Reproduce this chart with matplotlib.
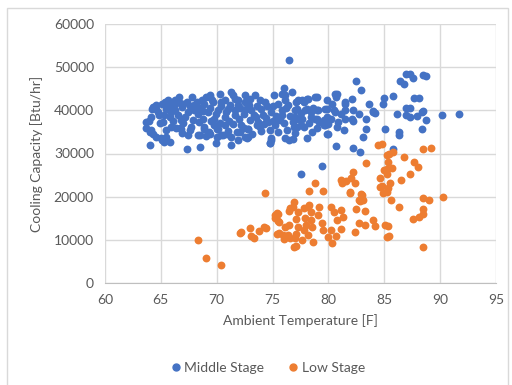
import matplotlib
matplotlib.use("Agg")
import matplotlib.pyplot as plt
from matplotlib.patches import Rectangle
from matplotlib.lines import Line2D

# Middle stage: ambient temperature [F] and cooling capacity [Btu/hr]
mid_temp = [76.5, 64.0, 67.3, 68.5, 69.9, 71.3, 74.8, 74.9, 76.5, 76.8,
            63.7, 63.7, 64.0, 64.3, 64.6, 65.1, 65.5, 65.8,
            66.4, 66.8, 67.6, 67.4, 68.5, 68.9, 69.3,
            70.0, 70.4, 70.9, 71.3, 71.8, 72.4, 72.8, 72.7,
            73.6, 74.2, 74.8, 75.2, 75.7, 76.3, 76.9,
            64.2, 64.6, 65.1, 65.4, 65.8, 66.3, 66.6, 66.7, 67.3, 67.8,
            68.2, 68.7, 69.0, 69.4, 69.6, 70.3, 70.4, 71.3, 71.5, 71.9,
            72.5, 73.0, 73.4, 73.9, 74.3, 75.1, 75.8, 76.0, 76.1, 76.7, 77.1,
            64.3, 64.6, 64.1, 63.9, 64.1, 65.0, 65.3, 72.5, 72.1, 70.1,
            68.9, 67.7, 66.7, 65.9, 65.2, 65.8, 66.5, 67.4, 68.3, 69.2,
            70.1, 71.0, 71.9, 72.5, 69.4, 65.6, 64.7, 65.5, 66.2, 67.0,
            68.0, 68.9, 69.7, 70.7, 71.6, 66.8, 67.9, 68.8, 69.8, 70.7,
            71.6, 72.4, 70.7, 71.5, 72.2, 69.4, 68.3, 70.6, 71.9, 69.8,
            76.1, 75.5, 76.4, 77.3, 78.1, 79.0, 79.9, 80.6, 81.5, 82.1,
            73.1, 74.0, 74.9, 75.8, 77.0, 78.1, 79.0, 79.7, 80.6, 81.5,
            82.1, 73.0, 73.7, 74.6, 75.5, 77.3, 78.8, 79.9, 80.9, 81.5,
            72.8, 73.9, 77.5, 79.7, 80.8, 81.4, 72.8, 74.9, 74.8, 76.1,
            78.1, 79.9, 80.7, 82.2, 82.8, 79.4, 77.5,
            82.5, 82.9, 83.6, 84.9, 85.0, 85.8, 86.9, 87.3, 87.6, 86.4,
            86.8, 88.5, 88.7, 87.7, 88.1, 87.3, 86.1, 86.9, 87.9, 88.4,
            88.5, 88.7, 88.4, 86.3, 85.1, 83.4, 83.1, 85.8, 90.2, 91.7,
            82.2, 82.7, 84.0, 84.2, 82.2, 83.4, 86.3,
            80.8, 80.7, 78.8, 78.2, 77.6, 77.8, 80.3, 81.5, 84.0,
            77.2, 77.9, 78.6, 79.1, 79.9, 80.5, 81.1, 77.0, 77.6, 78.4,
            79.0, 79.6, 80.2, 77.2, 77.8, 79.6, 80.0, 86.9, 87.3,
            64.8, 65.3, 65.9, 66.3, 66.9, 67.2, 67.6, 68.0, 68.5, 68.8,
            69.4, 69.9, 70.4, 70.8, 71.2, 71.6, 72.1, 72.6, 72.9, 73.3,
            73.6, 74.1, 74.5, 75.0, 75.3, 75.8, 76.2, 76.6, 77.5, 78.4,
            66.1, 67.0, 68.4, 69.5, 70.3, 71.1, 72.0, 73.5, 74.4, 75.0,
            76.0, 76.8, 78.3, 79.2, 64.9, 65.5, 66.9, 69.0, 70.0, 71.0,
            73.2, 74.0, 75.5, 77.0, 78.5, 79.0, 80.0]
mid_cap = [51630, 31860, 31090, 31470, 32460, 32000, 32460, 33090, 33090, 33320,
           36020, 37310, 35000, 34630, 33850, 33090, 33710, 32560,
           36020, 35790, 35400, 34240, 34240, 36160, 35000,
           35560, 34240, 34630, 33850, 35000, 36020, 35560, 33480,
           36550, 36940, 35400, 36550, 37710, 35400, 36160,
           40410, 41170, 41560, 41930, 41170, 42320, 43090, 41700, 41930, 43090,
           41930, 42320, 43090, 43480, 42320, 43870, 41930, 44240, 43480, 42320,
           43480, 42720, 43480, 42320, 41930, 43480, 43870, 45160, 42320, 44240, 41930,
           40780, 40410, 38470, 37470, 35400, 33480, 32700, 33850, 35000, 35790,
           35790, 36160, 35930, 36160, 37310, 38470, 38860, 39620, 39250, 39620,
           40010, 40410, 41170, 41930, 43090, 42320, 39620, 40410, 41170, 41560,
           41170, 41560, 41930, 42320, 42720, 37710, 37710, 38100, 38100, 38470,
           38860, 39250, 36550, 36940, 36550, 34630, 34240, 34240, 33090, 36710,
           43480, 41560, 41170, 42320, 42720, 43090, 42320, 43870, 41930, 42720,
           40010, 40410, 39620, 40010, 40010, 40410, 40010, 40410, 39620, 40010,
           38100, 37710, 37310, 37310, 38100, 38100, 38100, 38470, 37310, 38100,
           35790, 36160, 36550, 36550, 36160, 35400, 33850, 33480, 32330, 33480,
           33620, 34630, 31700, 31170, 30390, 27080, 25240,
           46710, 44630, 41560, 41560, 42950, 43250, 48330, 48490, 47560, 46780,
           46020, 48100, 48030, 42860, 42950, 40550, 39090, 39020, 38630, 39620,
           39850, 37710, 35630, 34870, 35700, 35790, 33710, 31010, 39020, 39090,
           40180, 39250, 39780, 39390, 37540, 38100, 34240,
           43870, 43090, 43090, 42720, 42490, 41930, 41560, 41560, 39620,
           40410, 40180, 40640, 40010, 40410, 40010, 39250, 38470, 38100, 38470,
           38100, 37710, 38100, 36160, 36160, 36550, 34630, 40640, 38470,
           39000, 38900, 39500, 40000, 40800, 38500, 41000, 40000, 40600, 39800,
           40500, 39200, 41000, 39600, 41300, 40000, 40600, 40200, 41300, 39000,
           41000, 39000, 40900, 41000, 38800, 39000, 40500, 38700, 39300, 39500,
           37600, 37000, 37200, 37600, 37000, 37600, 37900, 38400, 38200, 37600,
           37000, 37300, 37000, 37200, 37000, 35500, 34800, 34000, 33800, 35200,
           34600, 35200, 35000, 34800, 35000, 35800, 36900]

# Low stage
low_temp = [74.3, 68.3, 69.0, 70.4, 72.1, 72.2, 73.0, 73.1, 73.3, 73.8,
            74.2, 74.4, 75.2, 75.5, 75.5, 75.6, 75.6, 75.9, 76.0, 76.1,
            76.5, 76.6, 76.8, 76.9, 76.4, 76.9,
            84.4, 84.8, 85.2, 83.4, 82.2, 81.1, 81.2, 81.6, 82.0, 82.4,
            78.8, 78.3, 79.5, 81.9, 82.9, 82.7, 82.5, 83.3, 77.3, 77.1,
            77.3, 77.1, 77.0, 77.1, 77.8, 78.2, 78.4, 77.9, 78.4, 78.0,
            78.5, 77.8, 78.2, 77.6, 79.2, 79.1, 79.4, 79.5, 80.2, 80.0,
            80.3, 78.6, 80.2, 80.5, 81.1, 80.8, 81.3, 81.1, 80.7, 82.4,
            82.7, 83.3, 84.0, 84.2, 85.2, 85.1, 82.8, 83.1, 84.6, 84.6, 84.9,
            88.5, 89.2, 85.4, 85.8, 86.8, 87.7, 88.0, 85.3, 85.7, 85.2,
            85.2, 87.3, 86.5, 85.5, 85.3, 85.2, 85.6, 86.3, 88.5, 89.0,
            90.3, 88.5, 88.5, 88.1, 87.6, 85.3, 85.4, 88.5,
            81.9, 83.0, 84.8, 85.0, 76.5, 78.3, 75.4, 75.2, 75.4, 76.6]
low_cap = [20920, 9930, 5770, 4150, 11540, 11780, 12840, 10920, 10530, 12150,
           13070, 12840, 15770, 16070, 14450, 14220, 11540, 11150, 10230, 13070,
           13460, 17320, 17690, 18840, 11150, 8450,
           31930, 32160, 29620, 27710, 25770, 23850, 23230, 23620, 24240, 23230,
           23090, 21310, 21380, 20780, 20550, 19230, 17160, 16760, 16530, 14850,
           13070, 11310, 10530, 8610, 17320, 17690, 16530, 15010, 14620, 13460,
           13070, 12310, 11150, 10000, 17690, 15770, 13850, 12310, 12310, 10760,
           9240, 9610, 17690, 16530, 16930, 14620, 15240, 12470, 10920, 11910,
           13850, 13460, 14620, 13230, 10760, 13460, 19000, 19230, 24240, 22310, 20780,
           31010, 31310, 29790, 30390, 29230, 28080, 26920, 27940, 26690, 25240,
           26390, 25170, 23850, 23090, 21940, 21010, 19230, 17690, 19630, 19160,
           20000, 17160, 16000, 15380, 14780, 13300, 10990, 8310,
           21150, 20390, 22470, 26160, 16760, 18080, 16300, 15010, 11380, 10390]

BLUE = "#4472C4"
ORANGE = "#ED7D31"
TXT = "#595959"

plt.rcParams['font.family'] = ['Lato', 'DejaVu Sans']

fig = plt.figure(figsize=(5.12, 3.85), dpi=100)
ax = fig.add_axes([105/512, 1 - 283/385, 391/512, 259/385])

ax.scatter(mid_temp, mid_cap, s=32, color=BLUE, linewidths=0, zorder=3)
ax.scatter(low_temp, low_cap, s=32, color=ORANGE, linewidths=0, zorder=3)

ax.set_xlim(60, 95)
ax.set_ylim(0, 60000)
ax.set_xticks(range(60, 96, 5))
ax.set_yticks(range(0, 60001, 10000))
ax.grid(True, color="#D9D9D9", linewidth=1)
ax.set_axisbelow(True)
for side in ["top", "right", "left"]:
    ax.spines[side].set_visible(False)
ax.spines["bottom"].set_color("#BFBFBF")
ax.tick_params(length=0, labelsize=10, colors=TXT, pad=8)

ax.set_xlabel("Ambient Temperature [F]", fontsize=10, color=TXT, labelpad=6)
ax.set_ylabel("Cooling Capacity [Btu/hr]", fontsize=10, color=TXT, labelpad=8)

handles = [Line2D([], [], marker="o", linestyle="", color=BLUE, markersize=5),
           Line2D([], [], marker="o", linestyle="", color=ORANGE, markersize=5)]
fig.legend(handles, ["Middle Stage", "Low Stage"], loc="center",
           bbox_to_anchor=(267/512, 1 - 368/385), ncol=2, frameon=False,
           fontsize=10, labelcolor=TXT, handletextpad=0.1, columnspacing=1.6,
           handlelength=1.0)

# chart area outline
fig.patches.append(Rectangle((7/512, -0.05), 501/512, 1 - 8/385 + 0.05,
                             transform=fig.transFigure, fill=False,
                             edgecolor="#D9D9D9", linewidth=1))

fig.savefig("out.png", dpi=100)
